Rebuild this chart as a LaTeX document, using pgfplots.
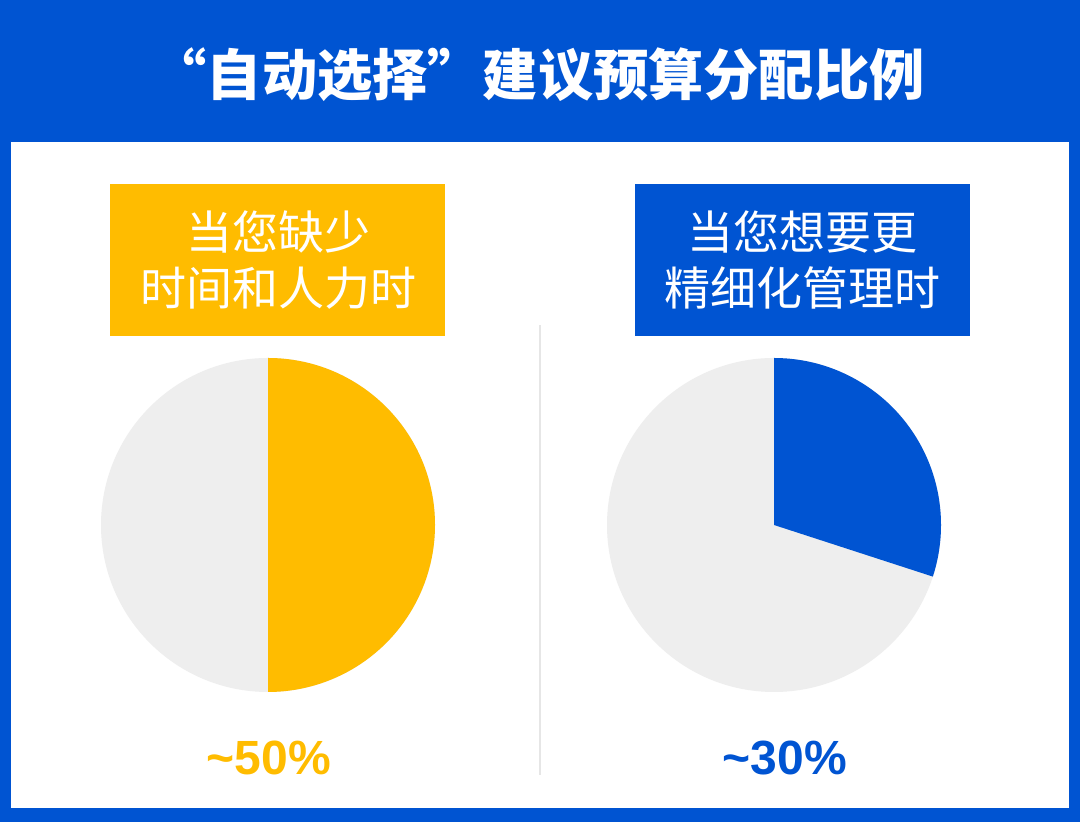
\documentclass[border=0pt]{standalone}
\usepackage{fontspec}
\usepackage{pgfplots}
\usepackage{pgfplotstable}
\pgfplotsset{compat=1.18}
\newfontfamily\cjk{Noto Sans CJK SC}
\setmainfont{Liberation Sans}
\definecolor{bgblue}{HTML}{0054D2}
\definecolor{pieyellow}{HTML}{FFBC00}
\definecolor{piegray}{HTML}{EEEEEE}
\definecolor{divgray}{HTML}{E6E6E6}
% share of the budget for "自动选择" (percent)
\pgfplotstableread{
case share
left 50
right 30
}\sharetable
\pgfplotstablegetelem{0}{share}\of\sharetable \let\shareA\pgfplotsretval
\pgfplotstablegetelem{1}{share}\of\sharetable \let\shareB\pgfplotsretval
\begin{document}
\begin{tikzpicture}[x=0.5pt,y=0.5pt]
% background
\fill[bgblue] (0,0) rectangle (1080,822);
\fill[white] (11,14) rectangle (1069,680);
% title
\node[text=white,font={\cjk\bfseries\fontsize{27.6}{32}\selectfont}] at (538,747) {“自动选择”建议预算分配比例};
% boxes
\fill[pieyellow] (110,486) rectangle (445,638);
\fill[bgblue] (635,486) rectangle (970,638);
\node[text=white,align=center,font={\cjk\fontsize{23}{28}\selectfont}] at (278,562) {当您缺少\\时间和人力时};
\node[text=white,align=center,font={\cjk\fontsize{23}{28}\selectfont}] at (802,562) {当您想要更\\精细化管理时};
% divider
\draw[divgray,line width=1pt] (540,47) -- (540,497);
% left pie
\begin{axis}[at={(134pt,148.5pt)},anchor=center,scale only axis,width=167pt,height=167pt,
  hide axis,xmin=-1,xmax=1,ymin=-1,ymax=1,clip=false]
  \fill[piegray] (axis cs:0,0) circle[radius=83.5pt];
  \fill[pieyellow] (axis cs:0,0) -- (axis cs:0,1) arc[start angle=90,delta angle={-3.6*\shareA},radius=83.5pt] -- cycle;
\end{axis}
% right pie
\begin{axis}[at={(387pt,148.5pt)},anchor=center,scale only axis,width=167pt,height=167pt,
  hide axis,xmin=-1,xmax=1,ymin=-1,ymax=1,clip=false]
  \fill[piegray] (axis cs:0,0) circle[radius=83.5pt];
  \fill[bgblue] (axis cs:0,0) -- (axis cs:0,1) arc[start angle=90,delta angle={-3.6*\shareB},radius=83.5pt] -- cycle;
\end{axis}
% percentages
\node[text=pieyellow,font={\bfseries\fontsize{24}{28}\selectfont}] at (269,64) {\char`~50\%};
\node[text=bgblue,font={\bfseries\fontsize{24}{28}\selectfont}] at (785,64) {\char`~30\%};
\end{tikzpicture}
\end{document}
